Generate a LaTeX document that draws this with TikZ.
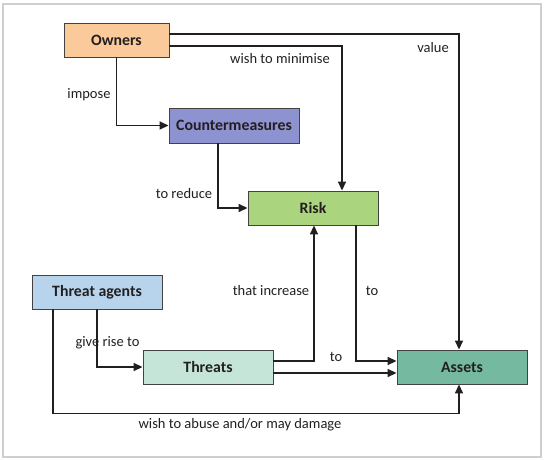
\documentclass[tikz,border=0pt]{standalone}
\usepackage{fontspec}
\setmainfont{Carlito}
\usetikzlibrary{arrows.meta}
\definecolor{cOwn}{HTML}{FBCA9B}
\definecolor{cCM}{HTML}{8D92D0}
\definecolor{cRisk}{HTML}{AAD47E}
\definecolor{cTA}{HTML}{B7D4EC}
\definecolor{cThr}{HTML}{C6E5D9}
\definecolor{cAss}{HTML}{76B9A1}
\definecolor{ink}{HTML}{231F20}
\definecolor{frameg}{HTML}{CFCFCF}
\tikzset{
  box/.style={draw=ink!85, line width=0.9pt, minimum height=34pt, minimum width=130pt,
    inner sep=0pt, font=\fontsize{15.8}{18}\selectfont\bfseries, text=ink},
  arr/.style={draw=ink, line width=1.6pt, -{Triangle[length=9pt,width=8pt]}},
  lbl/.style={font=\fontsize{14.5}{16}\selectfont, text=ink, inner sep=0pt}
}
\begin{document}
\begin{tikzpicture}[x=1pt,y=-1pt]
\useasboundingbox (0,0) rectangle (549,460);
\draw[frameg, line width=1.6pt] (3,4) rectangle (541,457);

\node[box, fill=cOwn, minimum width=105pt] (own) at (116.5,40) {Owners};
\node[box, fill=cCM, minimum height=35pt] (cm) at (234,125.5) {Countermeasures};
\node[box, fill=cRisk] (risk) at (313,208) {Risk};
\node[box, fill=cTA] (ta) at (97,292) {Threat agents};
\node[box, fill=cThr] (thr) at (208,367) {Threats};
\node[box, fill=cAss] (ass) at (462,367) {Assets};

\draw[arr] ([yshift=6pt]own.east) -| ([xshift=-3pt]ass.north);
\draw[arr] ([yshift=-6pt]own.east) -| ([xshift=29pt]risk.north);
\draw[arr] (own.south) |- (cm.west);
\draw[arr] ([xshift=-16pt]cm.south) |- (risk.west);
\draw[arr] (ta.south) |- (thr.west);
\draw[arr] ([xshift=-44pt]ta.south) |- ([xshift=-3pt,yshift=-29pt]ass.south) -- ([xshift=-3pt]ass.south);
\draw[arr] ([yshift=6pt]thr.east) -| ([xshift=1pt]risk.south);
\draw[arr] ([xshift=43pt]risk.south) |- ([yshift=6pt]ass.west);
\draw[arr] ([yshift=-6pt]thr.east) -- ([yshift=-6pt]ass.west);

\node[lbl] (lvalue) at (433,48) {value};
\node[lbl] (lmin) at (280,59) {wish to minimise};
\node[lbl] (limp) at (89,95) {impose};
\node[lbl] (lred) at (184,194) {to reduce};
\node[lbl] (lgive) at (107.5,343) {give rise to};
\node[lbl] (linc) at (271,291) {that increase};
\node[lbl] (lto1) at (372,291) {to};
\node[lbl] (lto2) at (336,357) {to};
\node[lbl] (labuse) at (240,425) {wish to abuse and/or may damage};
\end{tikzpicture}
\end{document}
